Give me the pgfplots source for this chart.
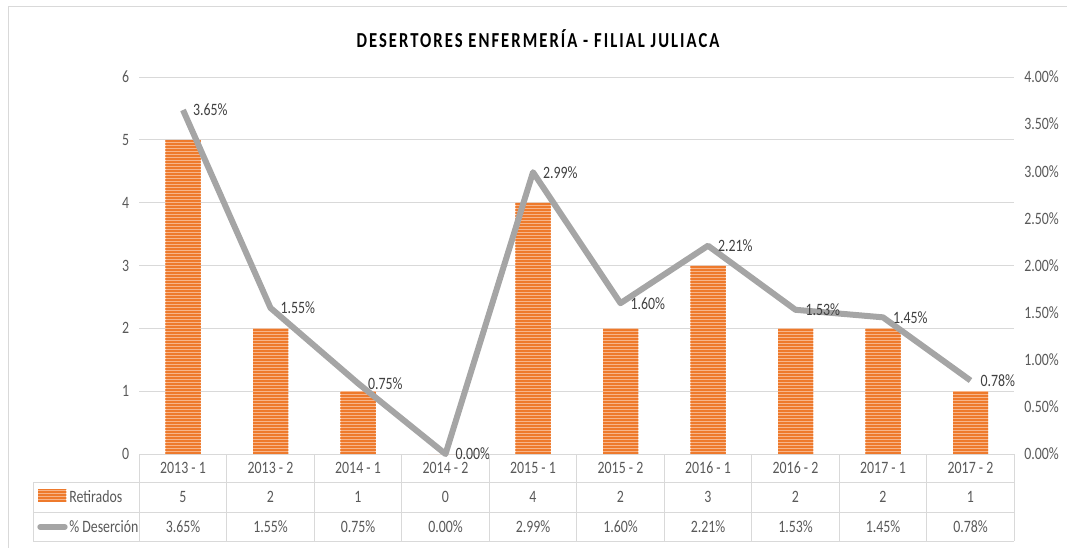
\documentclass[border=0pt]{standalone}
\usepackage{fontspec}
\setmainfont{Carlito}[FakeStretch=0.8]
\newfontfamily\titlefont{Carlito}[FakeStretch=0.78,LetterSpace=9.5]
\usepackage{pgfplots}
\pgfplotsset{compat=1.18}
\usetikzlibrary{patterns}
\definecolor{barorange}{HTML}{EE7A2C}
\definecolor{barlight}{HTML}{F7B58A}
\definecolor{linegray}{HTML}{A5A5A5}
\definecolor{gridgray}{HTML}{D9D9D9}
\definecolor{textgray}{HTML}{595959}
\definecolor{labgray}{HTML}{404040}
\pgfdeclarepatternformonly{stripes}{\pgfpoint{-1pt}{-1pt}}{\pgfpoint{2pt}{3pt}}{\pgfpoint{1pt}{2.25pt}}{%
  \pgfsetlinewidth{1.4pt}%
  \pgfpathmoveto{\pgfpoint{-1pt}{0.7pt}}%
  \pgfpathlineto{\pgfpoint{2pt}{0.7pt}}%
  \pgfusepath{stroke}}
\newcommand\lbl{\fontsize{13}{15}\selectfont}
\pgfplotsset{/pgf/number format/assume math mode=true}
\pgfplotstableread{
x ret des
0 5 3.65
1 2 1.55
2 1 0.75
3 0 0.00
4 4 2.99
5 2 1.60
6 3 2.21
7 2 1.53
8 2 1.45
9 1 0.78
}\datatab
\begin{document}
\begin{tikzpicture}
\useasboundingbox (0,0) rectangle (800.25pt,410.25pt);
% outer frame
\begin{scope}[x=0.75pt,y=-0.75pt,shift={(0,410.25pt)}]
\draw[gridgray,line width=0.75pt] (8,560) -- (8,7) -- (1080,7);
\node[font=\titlefont\fontsize{16}{19}\selectfont\bfseries,text=black] at (538,39) {DESERTORES ENFERMERÍA - FILIAL JULIACA};
\end{scope}
\begin{axis}[
  at={(104.4375pt,69.75pt)}, anchor=south west, scale only axis,
  width=656.25pt, height=282.75pt,
  xmin=-0.5, xmax=9.5, ymin=0, ymax=6,
  ytick={0,1,...,6}, xtick=\empty,
  axis line style={draw=none}, major tick length=0pt,
  ymajorgrids, grid style={gridgray,line width=0.75pt},
  yticklabel style={text=textgray,font=\lbl,xshift=-4pt},
  clip=false,
  ybar, bar width=26.25pt,
]
\addplot[draw=none,fill=barlight,postaction={pattern=stripes,pattern color=barorange}] table[x=x,y=ret] {\datatab};
\end{axis}
\begin{axis}[
  at={(104.4375pt,69.75pt)}, anchor=south west, scale only axis,
  width=656.25pt, height=282.75pt,
  xmin=-0.5, xmax=9.5, ymin=0, ymax=4,
  ytick={0,0.5,...,4}, xtick=\empty,
  yticklabel pos=right,
  axis line style={draw=none}, major tick length=0pt,
  yticklabel={\pgfmathprintnumber[fixed,fixed zerofill,precision=2]{\tick}\%},
  yticklabel style={text=textgray,font=\lbl,xshift=4pt},
  clip=false,
]
\addplot[linegray,line width=4.5pt,line join=round,
  nodes near coords={\pgfmathprintnumber[fixed,fixed zerofill,precision=2]{\pgfplotspointmeta}\%},
  every node near coord/.append style={anchor=west,xshift=2pt,text=labgray,font=\lbl}
] table[x=x,y=des] {\datatab};
\end{axis}
% data table
\begin{scope}[x=0.75pt,y=-0.75pt,shift={(0,410.25pt)}]
\draw[gridgray,line width=0.75pt] (33,482) -- (1014.25,482) (33,512) -- (1014.25,512) (33,541) -- (1014.25,541) (33,482) -- (33,541);
\foreach \k in {0,...,10} {\draw[gridgray,line width=0.75pt] (139.25+\k*87.5,454) -- (139.25+\k*87.5,541);}
\foreach \c/\r/\p [count=\i from 0] in {2013 - 1/5/3.65\%,2013 - 2/2/1.55\%,2014 - 1/1/0.75\%,2014 - 2/0/0.00\%,2015 - 1/4/2.99\%,2015 - 2/2/1.60\%,2016 - 1/3/2.21\%,2016 - 2/2/1.53\%,2017 - 1/2/1.45\%,2017 - 2/1/0.78\%} {
  \node[font=\lbl,text=textgray] at (183+\i*87.5,468) {\c};
  \node[font=\lbl,text=textgray] at (183+\i*87.5,497) {\r};
  \node[font=\lbl,text=textgray] at (183+\i*87.5,526.5) {\p};
}
\fill[barlight,postaction={pattern=stripes,pattern color=barorange}] (38,489) rectangle (66,501);
\draw[linegray,line width=4pt,line cap=round] (40,527) -- (65,527);
\node[font=\lbl,text=textgray,anchor=west,inner sep=0pt] at (69,497) {Retirados};
\node[font=\lbl,text=textgray,anchor=west,inner sep=0pt] at (69,526.5) {\% Deserción};
\end{scope}
\end{tikzpicture}
\end{document}
